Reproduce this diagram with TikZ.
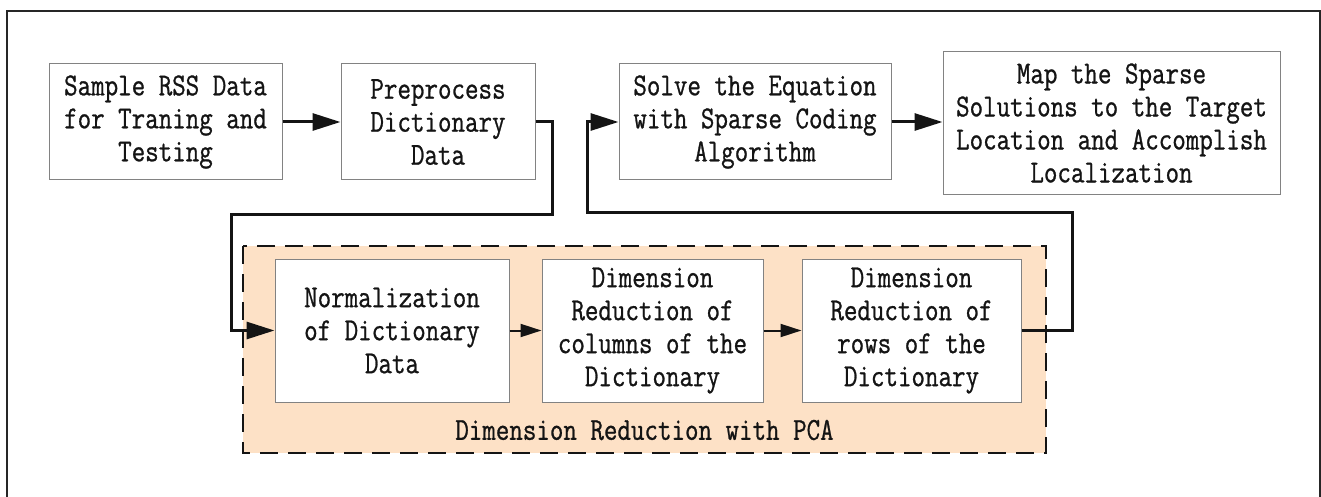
\documentclass[tikz,border=0pt]{standalone}
\usepackage{fontspec}
\usetikzlibrary{arrows.meta}
\newfontfamily\boxfont[FakeStretch=0.82,FakeBold=0.8]{Latin Modern Mono}
\definecolor{pcafill}{RGB}{253,225,198}
\definecolor{boxline}{RGB}{130,130,130}
\definecolor{ink}{RGB}{20,20,20}

\begin{document}
\begin{tikzpicture}[x=1pt,y=-1pt,
  stepbox/.style={draw=boxline,line width=1pt,fill=white,inner sep=0pt,align=center,
    font=\boxfont\fontsize{32}{33}\selectfont,text=ink},
  flow/.style={draw=ink,line width=3pt,-{Triangle[length=28pt,width=17pt]}},
  innerflow/.style={draw=ink,line width=2pt,-{Triangle[length=21pt,width=13pt]}},
  groupbox/.style={draw=ink,line width=2.5pt,fill=pcafill,dash pattern=on 18pt off 10pt},
]
\useasboundingbox (0,0) rectangle (1321,497);
% outer frame
\draw[line width=1.5pt,black!85] (7,11) rectangle (1320,520);

% PCA group
\draw[groupbox] (243,246) rectangle (1046,453);
\node[font=\boxfont\fontsize{32}{33}\selectfont,text=ink] (pcalabel) at (644.5,430) {Dimension Reduction with PCA};

% top row
\node[stepbox,minimum width=233pt,minimum height=116pt] (sample) at (165.5,122)
  {Sample RSS Data\\for Traning and\\Testing};
\node[stepbox,minimum width=194pt,minimum height=116pt] (pre) at (438,122)
  {Preprocess\\Dictionary\\Data};
\node[stepbox,minimum width=272pt,minimum height=116pt] (solve) at (755,122)
  {Solve the Equation\\with Sparse Coding\\Algorithm};
\node[stepbox,minimum width=337pt,minimum height=142pt] (map) at (1111.5,123)
  {Map the Sparse\\Solutions to the Target\\Location and Accomplish\\Localization};

% PCA steps
\node[stepbox,minimum width=234pt,minimum height=143pt] (norm) at (392,330.5)
  {Normalization\\of Dictionary\\Data};
\node[stepbox,minimum width=221pt,minimum height=143pt] (cols) at (652.5,330.5)
  {Dimension\\Reduction of\\columns of the\\Dictionary};
\node[stepbox,minimum width=219pt,minimum height=143pt] (rows) at (911.5,330.5)
  {Dimension\\Reduction of\\rows of the\\Dictionary};

% bend points of the long connectors
\coordinate (t1) at (552,214);
\coordinate (t2) at (231,214);
\coordinate (u1) at (1072,212);
\coordinate (u2) at (587,212);

% connectors
\draw[flow] (sample.east) -- (pre.west);
\draw[flow] (solve.east) -- (solve.east -| map.west);
\draw[flow] (pre.east) -| (t1) -- (t2) |- (norm.west);
\draw[flow] (rows.east) -| (u1) -- (u2) |- (solve.west);
\draw[innerflow] (norm.east) -- (cols.west);
\draw[innerflow] (cols.east) -- (rows.west);
\end{tikzpicture}
\end{document}
